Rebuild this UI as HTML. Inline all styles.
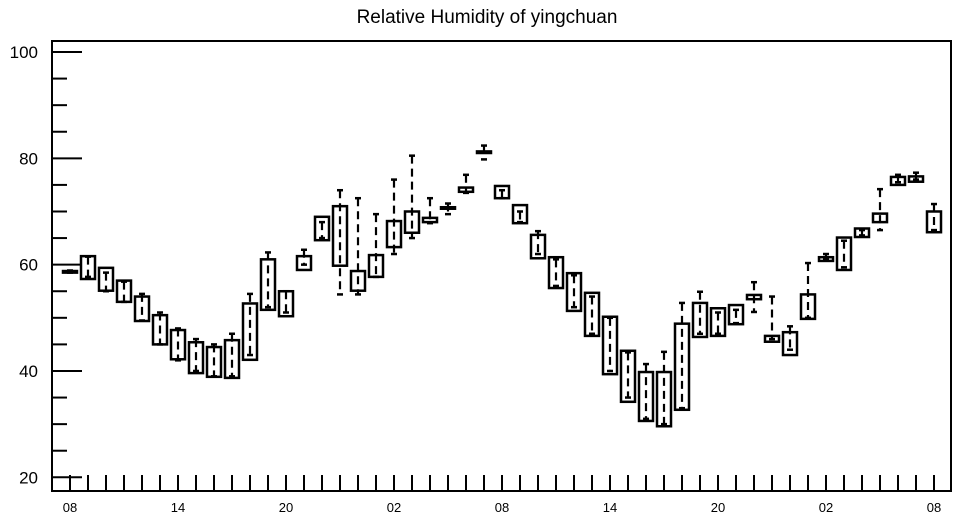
<!DOCTYPE html>
<html><head><meta charset="utf-8"><style>
html,body{margin:0;padding:0;background:#fff}
svg{display:block;font-family:"Liberation Sans",sans-serif}
</style></head><body>
<svg id="chart" width="957" height="520" viewBox="0 0 957 520" xmlns="http://www.w3.org/2000/svg">
<text x="487" y="23" text-anchor="middle" font-size="19">Relative Humidity of yingchuan</text>
<rect x="52" y="41" width="899" height="450" fill="none" stroke="#000" stroke-width="2"/>
<g id="axes"></g>
<g id="marks"></g>
</svg>
<script>
const boxHi = [58.8,61.6,59.4,57,54,50.5,47.7,45.4,44.5,45.8,52.7,61,55,61.6,69,71,58.8,61.8,68.2,70,68.8,70.8,74.5,81.3,74.8,71.2,65.6,61.4,58.4,54.7,50.2,43.8,39.8,39.8,48.9,52.8,51.8,52.4,54.3,46.6,47.3,54.4,61.4,65.1,66.8,69.6,76.5,76.6,70];
const boxLo = [58.5,57.3,55.1,53,49.4,45,42.2,39.6,38.9,38.7,42.1,51.5,50.3,59,64.6,59.8,55.1,57.7,63.3,66,68,70.6,73.7,81,72.5,67.8,61.2,55.6,51.3,46.6,39.4,34.2,30.6,29.6,32.7,46.4,46.6,48.8,53.5,45.5,43,49.8,60.7,59,65.2,68,75,75.6,66.1];
const whiskHi = [58.9,61.5,58.5,56.8,54.5,51,48,46,45,47,54.5,62.3,55,62.8,68,74,72.5,69.5,76,80.5,72.5,71.5,76.9,82.4,74,70,66.3,61,58,54,50,43.5,41.3,43.6,52.8,54.9,51,51.5,56.7,54,48.4,60.3,62,64.5,66.5,74.2,76.9,77.3,71.4];
const whiskLo = [58.5,57.7,55,53,49.5,45,42,40,39,39,43,52,51,60,65,54.4,54.4,57.7,62,65,67.8,69.5,73.5,79.8,72.5,68,62,56,52,47,40,35,31,30,33,47,47,49,51.1,46,44,50,61,59.5,65.5,66.5,75.5,76,66.5];
const yTicks = [20,40,60,80,100];
const xTickLabels = ["08","14","20","02","08","14","20","02","08"];

const NS="http://www.w3.org/2000/svg";
const X0=70, DX=18, Y100=52, Y20=477.3;
function xPos(i){return X0+DX*i;}
function yPos(v){return Y20-(v-20)*(Y20-Y100)/80;}
function mk(tag,attrs,parent){const e=document.createElementNS(NS,tag);for(const k in attrs)e.setAttribute(k,attrs[k]);parent.appendChild(e);return e;}
const axes=document.getElementById('axes'), marks=document.getElementById('marks');

for(let v=20; v<=100; v+=5){
  const major = yTicks.includes(v);
  const t=mk('line',{x1:52,x2:major?82:67,y1:yPos(v),y2:yPos(v),stroke:'#000','stroke-width':2},axes);
  
  
}
yTicks.forEach(v=>{
  const t=mk('text',{x:38,y:yPos(v)+6,'text-anchor':'end','font-size':17},axes);
  t.textContent=v;
  
  
});
for(let i=0;i<boxHi.length;i++){
  const t=mk('line',{x1:xPos(i),x2:xPos(i),y1:491,y2:475,stroke:'#000','stroke-width':2},axes);
  
  
}
xTickLabels.forEach((s,k)=>{
  const t=mk('text',{x:xPos(k*6),y:512,'text-anchor':'middle','font-size':13},axes);
  t.textContent=s;
  
  
});

for(let i=0;i<boxHi.length;i++){
  const g=mk('g',{},marks);
  
  
  const x=xPos(i);
  const wl=mk('line',{x1:x,x2:x,y1:yPos(whiskHi[i]),y2:yPos(whiskLo[i]),stroke:'#000','stroke-width':2.2,'stroke-dasharray':'8,5'},g);
  
  
  const c1=mk('line',{x1:x-3,x2:x+3,y1:yPos(whiskHi[i]),y2:yPos(whiskHi[i]),stroke:'#000','stroke-width':2.5},g);
  
  
  const c2=mk('line',{x1:x-3,x2:x+3,y1:yPos(whiskLo[i]),y2:yPos(whiskLo[i]),stroke:'#000','stroke-width':2.5},g);
  
  
  const top=yPos(boxHi[i]), bot=yPos(boxLo[i]);
  const r=mk('rect',{x:x-7,y:top,width:14,height:Math.max(bot-top,1.5),fill:'none',stroke:'#000','stroke-width':2.5},g);
  
  
}
</script>
</body></html>
